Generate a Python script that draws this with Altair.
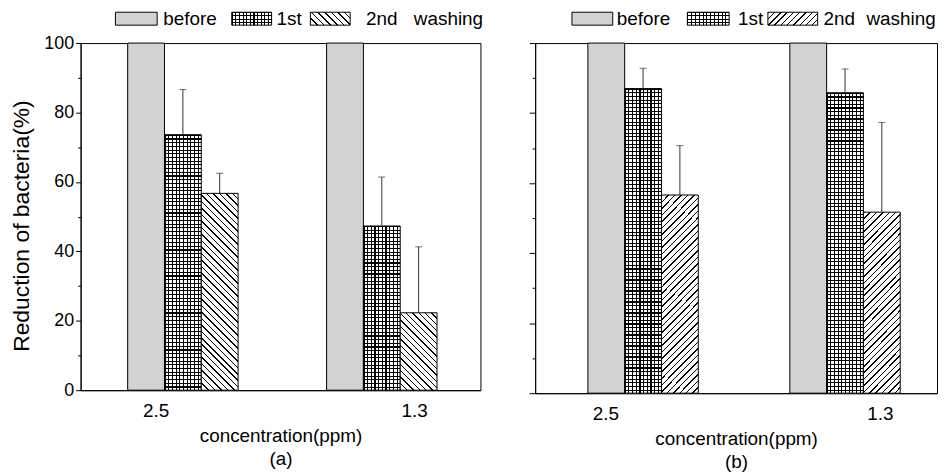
import math
import altair as alt
import pandas as pd

# ---------------- data ----------------
concentrations = ["2.5", "1.3"]
series_names = ["before", "1st", "2nd"]
legend_labels = ["before", "1st", "2nd", "washing"]

# panel (a)
a_before = [100.0, 100.0]
a_first = [73.6, 47.3]
a_second = [56.7, 22.3]
a_first_err = [13.0, 14.1]
a_second_err = [5.8, 19.0]

# panel (b)
b_before = [100.0, 100.0]
b_first = [87.0, 85.8]
b_second = [56.6, 51.7]
b_first_err = [5.8, 6.8]
b_second_err = [14.1, 25.6]


def table(before, first, second, first_err, second_err):
    rows = []
    for i, c in enumerate(concentrations):
        for s, v, e in (("before", before[i], 0.0),
                        ("1st", first[i], first_err[i]),
                        ("2nd", second[i], second_err[i])):
            rows.append(dict(conc=c, series=s, value=v, err=e, hi=v + e))
    return pd.DataFrame(rows)


df_a = table(a_before, a_first, a_second, a_first_err, a_second_err)
df_b = table(b_before, b_first, b_second, b_first_err, b_second_err)

FONT = "Liberation Sans"
STIPPLE = "#d2d2d2"


# ---------------- pattern helpers (linear gradients with hard stops) -------
def stripes(n, frac, line, bg, x1, y1, x2, y2):
    stops = []
    for i in range(n):
        a = i / n
        b = (i + frac) / n
        c = (i + 1) / n
        stops += [
            alt.GradientStop(offset=round(a, 5), color=line),
            alt.GradientStop(offset=round(b, 5), color=line),
            alt.GradientStop(offset=round(b, 5), color=bg),
            alt.GradientStop(offset=round(c, 5), color=bg),
        ]
    return alt.LinearGradient(gradient="linear", stops=stops,
                              x1=x1, y1=y1, x2=x2, y2=y2)


def hatch(w, h, direction, spacing=4.6, frac=0.23):
    k = (w + h) / (w * w + h * h)
    n = max(1, round((w + h) / math.sqrt(2) / spacing))
    if direction == "back":      # "\\\\"
        return stripes(n, frac, "black", "white", 0, 1, k * w, 1 - k * h)
    return stripes(n, frac, "black", "white", 0, 0, k * w, k * h)  # "////"


def hlines(h, spacing=3.7, frac=0.3):
    n = max(1, round(h / spacing))
    return stripes(n, frac, "black", "white", 0, 0, 0, 1)


def vlines(w, spacing=3.7, frac=0.3):
    n = max(1, round(w / spacing))
    return stripes(n, frac, "black", "rgba(0,0,0,0)", 0, 0, 1, 0)


# ---------------- one panel ----------------
def panel(df, W, H, pi, po, al, hatch_dir, x_title, y_title, label_off,
          tick_major, leg):
    step = W / (len(concentrations) - pi + 2 * po)
    bar_w = step * (1 - pi) / len(series_names)

    x_axis = alt.Axis(
        title=x_title, labelAngle=0, ticks=False, tickSize=0,
        labelPadding=11, labelFontSize=19, titleFontSize=19,
        titleFontWeight="normal", titleLineHeight=23, titlePadding=7,
        labelOffset={"condition": {"test": "datum.value == '2.5'",
                                   "value": label_off[0]},
                     "value": label_off[1]},
    )
    if y_title:
        y_axis = alt.Axis(
            values=list(range(0, 101, 10)),
            labelExpr="datum.value % 20 == 0 ? datum.label : ''",
            tickSize={"condition": {"test": "datum.value % 20 == 0",
                                    "value": tick_major}, "value": 3},
            labelFontSize=18, labelPadding=2, title=y_title,
            titleFontSize=23, titleFontWeight="normal", titlePadding=10,
            titleY=H / 2 + 9, grid=False,
        )
    else:
        y_axis = alt.Axis(
            values=list(range(0, 101, 10)), labels=False, title=None,
            tickSize={"condition": {"test": "datum.value % 20 == 0",
                                    "value": tick_major}, "value": 3},
            grid=False,
        )

    X = alt.X("conc:N", scale=alt.Scale(domain=concentrations,
                                        paddingInner=pi, paddingOuter=po,
                                        align=al), axis=x_axis)
    XO = alt.XOffset("series:N", scale=alt.Scale(domain=series_names))
    yscale = alt.Scale(domain=[0, 100], nice=False)
    Y = alt.Y("value:Q", scale=yscale, axis=y_axis, stack=None)
    Y2 = alt.Y2("hi:Q")
    YH = alt.Y("hi:Q", scale=yscale, axis=y_axis)

    base = alt.Chart(df)
    layers = []
    for _, r in df.iterrows():
        h = r["value"] / 100.0 * H
        flt = f"datum.conc == '{r['conc']}' && datum.series == '{r['series']}'"
        b = base.transform_filter(flt)
        if r["series"] == "before":
            layers.append(b.mark_bar(fill=STIPPLE, stroke="black",
                                     strokeWidth=1).encode(x=X, xOffset=XO, y=Y))
        elif r["series"] == "1st":
            layers.append(b.mark_bar(fill=hlines(h), strokeWidth=0)
                          .encode(x=X, xOffset=XO, y=Y))
            layers.append(b.mark_bar(fill=vlines(bar_w), stroke="black",
                                     strokeWidth=1).encode(x=X, xOffset=XO, y=Y))
        else:
            layers.append(b.mark_bar(fill=hatch(bar_w, h, hatch_dir),
                                     stroke="black", strokeWidth=1)
                          .encode(x=X, xOffset=XO, y=Y))

    err = base.transform_filter("datum.err > 0")
    layers.append(err.mark_rule(color="#333", strokeWidth=1)
                  .encode(x=X, xOffset=XO, y=Y, y2=Y2))
    layers.append(err.mark_tick(color="#333", thickness=1, size=7,
                                orient="horizontal")
                  .encode(x=X, xOffset=XO, y=YH))

    # legend (drawn above the plot area)
    (s1, s2, s3, t1, t2, t3, t4) = leg
    top, bot = -31, -18
    one = pd.DataFrame({"k": [0]})
    sw_w = s3[1] - s3[0]
    layers.append(alt.Chart(one).mark_rect(fill=STIPPLE, stroke="black", strokeWidth=1)
                  .encode(x=alt.value(s1[0]), x2=alt.value(s1[1]),
                          y=alt.value(top), y2=alt.value(bot)))
    layers.append(alt.Chart(one).mark_rect(fill=hlines(bot - top), strokeWidth=0)
                  .encode(x=alt.value(s2[0]), x2=alt.value(s2[1]),
                          y=alt.value(top), y2=alt.value(bot)))
    layers.append(alt.Chart(one).mark_rect(fill=vlines(s2[1] - s2[0]),
                                           stroke="black", strokeWidth=1)
                  .encode(x=alt.value(s2[0]), x2=alt.value(s2[1]),
                          y=alt.value(top), y2=alt.value(bot)))
    layers.append(alt.Chart(one).mark_rect(fill=hatch(sw_w, bot - top, hatch_dir),
                                           stroke="black", strokeWidth=1)
                  .encode(x=alt.value(s3[0]), x2=alt.value(s3[1]),
                          y=alt.value(top), y2=alt.value(bot)))
    for lab, tx in zip(legend_labels, (t1, t2, t3, t4)):
        layers.append(alt.Chart(pd.DataFrame({"label": [lab]}))
                      .mark_text(align="left", baseline="alphabetic",
                                 fontSize=19, font=FONT, color="black")
                      .encode(x=alt.value(tx), y=alt.value(bot),
                              text="label:N"))

    return alt.layer(*layers).properties(width=W, height=H)


pa = panel(df_a, 402, 349, 0.445, 0.2275, 0.52, "back",
           ["concentration(ppm)", "(a)"], "Reduction of bacteria(%)",
           (-27, 33), 5,
           ((35, 77), (152, 192), (231, 271), 83, 197, 287, 335))
pb = panel(df_b, 404, 352, 0.448, 0.219, 0.596, "fwd",
           ["concentration(ppm)", "(b)"], None,
           (-38, 35), 6,
           ((37, 78), (153, 195), (234, 284), 82, 204, 290, 333))

chart = (
    alt.hconcat(pa, pb, spacing=44)
    .configure(font=FONT, padding={"left": 2, "top": 0, "right": 0, "bottom": 0})
    .configure_view(stroke="black", strokeWidth=1)
    .configure_axis(domainColor="black", tickColor="black", labelColor="black",
                    titleColor="black", labelFont=FONT, titleFont=FONT,
                    domainWidth=1, tickWidth=1)
)

chart.save("out.html", embed_options={"renderer": "svg", "actions": False})
